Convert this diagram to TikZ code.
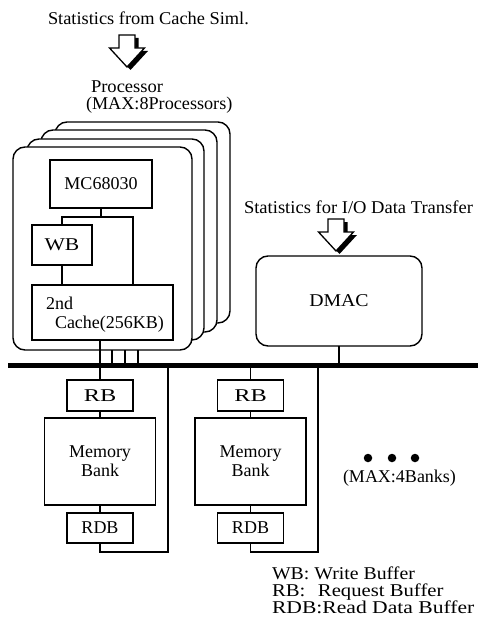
\documentclass[tikz,border=0pt]{standalone}
\usepackage{fontspec}
\setmainfont{Liberation Serif}
\begin{document}
\begin{tikzpicture}[x=1pt,y=-1pt,
  every node/.style={inner sep=0pt,outer sep=0pt,font=\fontsize{18}{19}\selectfont},
  wide/.style={font=\fontsize{18}{19}\selectfont\addfontfeatures{FakeStretch=#1}},
  box/.style={draw,line width=1.4pt,fill=white},
  rbox/.style={box,rounded corners=12pt},
  wire/.style={line width=1.4pt},
  buswire/.style={line width=5pt},
  textat/.style={anchor=base west},
  dot/.style={circle,fill=black,minimum size=8.5pt},
  statarrow/.pic={
    \fill[black] (3.5,3) ++(-8,0) -- ++(16,0) -- ++(0,13) -- ++(9.5,0)
      -- ++(-17.5,19) -- ++(-17.5,-19) -- ++(9.5,0) -- cycle;
    \draw[line width=1.3pt,fill=white,line join=miter]
      (-8,0) -- (8,0) -- (8,13) -- (17.5,13) -- (0,32) -- (-17.5,13) -- (-8,13) -- cycle;
  }]
\useasboundingbox (0,0) rectangle (478,631);

% --- statistics inputs ---
\node[textat,wide=1.02] (stat1) at (48,25) {Statistics from Cache Siml.};
\pic at (127,35) {statarrow};
\node[textat,wide=1.03] (stat2) at (244,213) {Statistics for I/O Data Transfer};
\pic at (336,219) {statarrow};

% --- processor stack (back copies first) ---
% multi-line nodes: base anchor sits on the last line
\node[textat,align=left,font=\fontsize{18}{17}\selectfont] (proclbl) at (86,110)
  {\hspace*{5pt}{\addfontfeatures{FakeStretch=1.03}Processor}\\
   {\addfontfeatures{FakeStretch=1.01}(MAX:8Processors)}};
\draw[rbox] (55,122) rectangle (230,323);
\draw[rbox] (41,130) rectangle (217,332);
\draw[rbox] (27,139) rectangle (204,340);
\node[rbox,minimum width=179pt,minimum height=203pt] (proc) at (102.5,248.5) {};

\node[box,minimum width=102pt,minimum height=48pt] (mc) at (101,184) {MC68030};
\node[box,minimum width=60pt,minimum height=40pt,wide=1.2] (wb) at (62,245) {WB};
\node[box,minimum width=141pt,minimum height=55pt] (cache) at (102.5,312.5) {};
\node[textat] (cache1) at (46,309) {2nd};
\node[textat] (cache2) at (55,328) {Cache(256KB)};

\coordinate (jr) at (133,217);
\draw[wire] (mc.south) -- (mc.south |- jr);
\draw[wire] (wb.north) |- (jr) -- (jr |- cache.north);
\draw[wire] (wb.south) -- (wb.south |- cache.north);

% --- system bus ---
\coordinate (busL) at (8,365);
\coordinate (busR) at (478,365);

% --- DMAC ---
\node[rbox,minimum width=166pt,minimum height=90pt,wide=1.1] (dmac) at (339,301) {DMAC};
\draw[wire] (dmac.south) -- (dmac.south |- busL);

% --- memory banks ---
\node[box,minimum width=66pt,minimum height=31pt,wide=1.35] (rb1) at (100,395.5) {RB};
\node[box,minimum width=111pt,minimum height=87pt,align=center] (mem1) at (100,461.5) {Memory\\Bank};
\node[box,minimum width=66pt,minimum height=30pt] (rdb1) at (100,528) {RDB};

\node[box,minimum width=66pt,minimum height=31pt,wide=1.35] (rb2) at (250.5,395.5) {RB};
\node[box,minimum width=111pt,minimum height=87pt,align=center] (mem2) at (250.5,461.5) {Memory\\Bank};
\node[box,minimum width=66pt,minimum height=30pt] (rdb2) at (250.5,528) {RDB};

\coordinate (ret1) at (168,552);
\coordinate (ret2) at (318,552);

\draw[wire] (cache.south -| rb1.north) -- (rb1.north);
\foreach \x in {112,125,138} \draw[wire] (proc.south -| \x,0) -- (busL -| \x,0);
\draw[wire] (rb2.north) -- (rb2.north |- busL);

\foreach \i in {1,2} {
  \draw[wire] (rb\i.south) -- (mem\i.north);
  \draw[wire] (mem\i.south) -- (rdb\i.north);
  \draw[wire] (rdb\i.south) |- (ret\i) -- (ret\i |- busL);
}

\draw[buswire] (busL) -- (busR);

% --- more banks ---
\node[dot] (d1) at (368,458) {};
\node[dot] (d2) at (392,458) {};
\node[dot] (d3) at (415,458) {};
\node[textat] (banksmax) at (343,482) {(MAX:4Banks)};

% --- legend ---
\node[textat,align=left,font=\fontsize{18}{17}\selectfont] (legend) at (272,613)
  {{\addfontfeatures{FakeStretch=1.1}WB: Write Buffer}\\
   {\addfontfeatures{FakeStretch=1.15}RB:\hspace{0.7em}Request Buffer}\\
   {\addfontfeatures{FakeStretch=1.2}RDB:Read Data Buffer}};
\end{tikzpicture}
\end{document}
